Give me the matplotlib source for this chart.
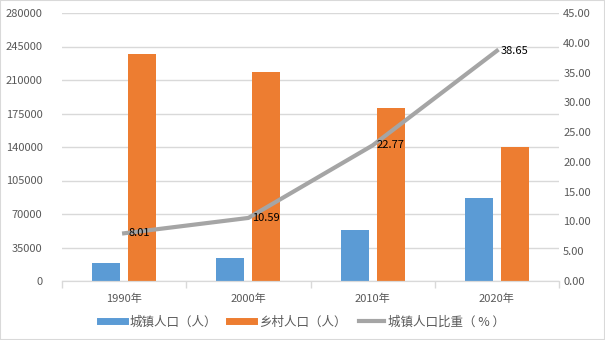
import numpy as np
import matplotlib.pyplot as plt
from matplotlib.lines import Line2D
from matplotlib.patches import Rectangle

plt.rcParams['font.family'] = ['Noto Sans CJK SC', 'DejaVu Sans']

# data
years = ['1990年', '2000年', '2010年', '2020年']
urban = [19000, 24100, 53500, 87000]
rural = [237300, 218100, 180400, 139500]
urban_share = [8.01, 10.59, 22.77, 38.65]

blue = '#5B9BD5'
orange = '#ED7D31'
gray = '#A5A5A5'
txt = '#595959'

fig = plt.figure(figsize=(6.05, 3.4), dpi=100)
fig.patches.append(Rectangle((0, 0), 1, 1, transform=fig.transFigure,
                             fill=False, edgecolor='#D9D9D9', lw=1.5))
ax = fig.add_axes([62 / 605, 1 - 281 / 340, 497 / 605, 268 / 340])
ax2 = ax.twinx()

x = np.arange(len(years))
w = 0.225
gap = 0.065
ax.bar(x - (w + gap) / 2, urban, w, color=blue, zorder=2)
ax.bar(x + (w + gap) / 2, rural, w, color=orange, zorder=2)

ax.set_ylim(0, 280000)
ax.set_yticks(np.arange(0, 280001, 35000))
ax.set_xlim(-0.5, len(years) - 0.5)
ax.set_xticks(x)
ax.set_xticklabels(years)
ax.set_xticks(np.arange(-0.5, len(years)), minor=True)
ax.grid(axis='y', color='#D9D9D9', lw=1, zorder=0)
ax.set_axisbelow(True)
ax.tick_params(axis='x', which='major', length=0, pad=9, labelsize=8, labelcolor=txt)
ax.tick_params(axis='x', which='minor', length=5, color='#D9D9D9', width=1)
ax.tick_params(axis='y', length=0, pad=14, labelsize=8, labelcolor=txt)

ax2.plot(x, urban_share, color=gray, lw=3, zorder=3)
for xi, v in zip(x, urban_share):
    ax2.annotate(f'{v:.2f}', (xi, v), xytext=(3, 0), textcoords='offset points',
                 va='center', ha='left', fontsize=8, color='black')
ax2.set_ylim(0, 45)
ax2.set_yticks(np.arange(0, 45.01, 5))
ax2.set_yticklabels([f'{t:.2f}' for t in np.arange(0, 45.01, 5)])
ax2.tick_params(axis='y', length=0, pad=3, labelsize=8, labelcolor=txt)

for a in (ax, ax2):
    for side in ('top', 'left', 'right'):
        a.spines[side].set_visible(False)
    a.spines['bottom'].set_color('#D9D9D9')

handles = [Line2D([], [], color=blue, lw=5),
           Line2D([], [], color=orange, lw=5),
           Line2D([], [], color=gray, lw=3)]
labels = ['城镇人口（人）', '乡村人口（人）', '城镇人口比重（ % ）']
leg = fig.legend(handles, labels, loc='center', bbox_to_anchor=(0.5, 1 - 322 / 340),
                 ncol=3, frameon=False, fontsize=9, handlelength=2.0,
                 columnspacing=1.0, handletextpad=0.35)
for t in leg.get_texts():
    t.set_color(txt)

fig.savefig('out.png', dpi=100)
